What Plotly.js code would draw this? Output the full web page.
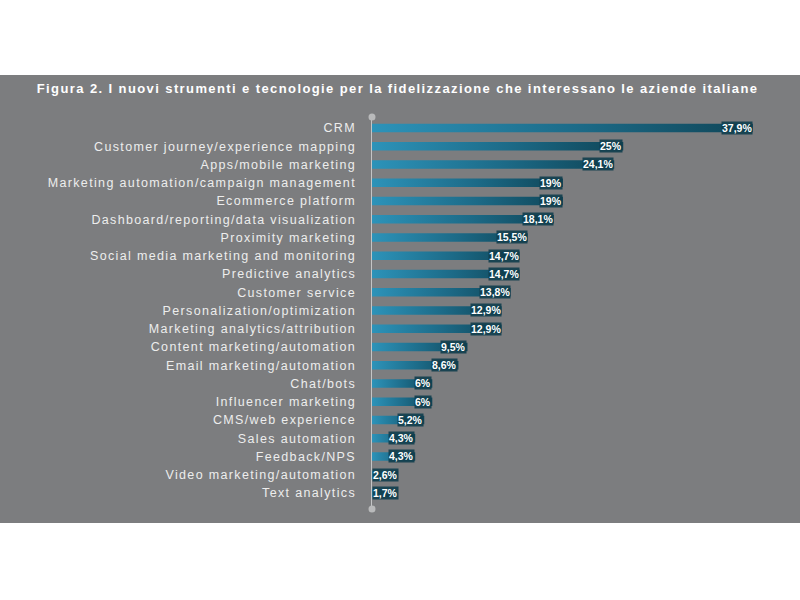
<!DOCTYPE html>
<html>
<head>
<meta charset="utf-8">
<script src="https://cdn.plot.ly/plotly-3.0.1.min.js"></script>
<style>
  html, body { margin: 0; padding: 0; background: #ffffff; }
  #chart { position: absolute; left: 0; top: 75px; width: 800px; height: 448px; }
  #chart .ytick text { letter-spacing: 1.35px; }
  #chart .gtitle { letter-spacing: 1.4px; }
</style>
</head>
<body>
<div id="chart"></div>
<script>
const categories = [
  "CRM",
  "Customer journey/experience mapping",
  "Apps/mobile marketing",
  "Marketing automation/campaign management",
  "Ecommerce platform",
  "Dashboard/reporting/data visualization",
  "Proximity marketing",
  "Social media marketing and monitoring",
  "Predictive analytics",
  "Customer service",
  "Personalization/optimization",
  "Marketing analytics/attribution",
  "Content marketing/automation",
  "Email marketing/automation",
  "Chat/bots",
  "Influencer marketing",
  "CMS/web experience",
  "Sales automation",
  "Feedback/NPS",
  "Video marketing/automation",
  "Text analytics"
];
const values = [37.9, 25, 24.1, 19, 19, 18.1, 15.5, 14.7, 14.7, 13.8, 12.9, 12.9, 9.5, 8.6, 6, 6, 5.2, 4.3, 4.3, 2.6, 1.7];
const valueLabels = values.map(v => String(v).replace('.', ',') + '%');
const titleText = "Figura 2. I nuovi strumenti e tecnologie per la fidelizzazione che interessano le aziende italiane";

const trace = {
  type: 'bar',
  orientation: 'h',
  x: values,
  y: categories,
  width: 0.46,
  marker: { color: '#1f6f8c', line: { width: 0 } },
  hoverinfo: 'none'
};

const annotations = values.map((v, i) => ({
  x: v < 3 ? 0 : v,
  y: categories[i],
  xref: 'x', yref: 'y',
  xanchor: v < 3 ? 'left' : 'right',
  yanchor: 'middle',
  text: '<b>' + valueLabels[i] + '</b>',
  showarrow: false,
  font: { family: 'Liberation Sans, Arial, sans-serif', size: 10.5, color: '#ffffff' },
  bgcolor: 'rgba(16,62,78,0.9)',
  borderpad: 0
}));

const dot = (yp) => ({
  type: 'circle', xref: 'paper', yref: 'paper',
  xsizemode: 'pixel', ysizemode: 'pixel',
  xanchor: 0, yanchor: yp,
  x0: -3.5, x1: 3.5, y0: -3.5, y1: 3.5,
  fillcolor: '#b9babb', line: { width: 0 }, layer: 'above'
});

const layout = {
  width: 800, height: 448,
  paper_bgcolor: '#7c7d7f',
  plot_bgcolor: 'rgba(0,0,0,0)',
  margin: { l: 372, r: 26, t: 42, b: 14 },
  showlegend: false,
  title: {
    text: '<b>' + titleText + '</b>',
    x: 0.497, xref: 'container', xanchor: 'center',
    y: 1 - 13 / 448, yref: 'container', yanchor: 'middle',
    font: { family: 'Liberation Sans, Arial, sans-serif', size: 13, color: '#ffffff' }
  },
  xaxis: { range: [0, 40], visible: false, fixedrange: true },
  yaxis: {
    type: 'category',
    categoryorder: 'array', categoryarray: categories,
    range: [20.88, -0.6], autorange: false,
    showline: true, linecolor: '#c4c5c6', linewidth: 1.5,
    showgrid: false, zeroline: false, ticks: '',
    ticklabelstandoff: 12,
    tickfont: { family: 'Liberation Sans, Arial, sans-serif', size: 12.5, color: '#ededed' },
    fixedrange: true
  },
  annotations: annotations,
  shapes: [dot(1), dot(0)]
};

Plotly.newPlot('chart', [trace], layout, { staticPlot: true, displayModeBar: false }).then(gd => {
  const svg = gd.querySelector('svg.main-svg');
  const ns = 'http://www.w3.org/2000/svg';
  let defs = svg.querySelector('defs');
  if (!defs) { defs = document.createElementNS(ns, 'defs'); svg.insertBefore(defs, svg.firstChild); }
  const grad = document.createElementNS(ns, 'linearGradient');
  grad.setAttribute('id', 'barGradient');
  grad.setAttribute('x1', '0'); grad.setAttribute('x2', '1');
  grad.setAttribute('y1', '0'); grad.setAttribute('y2', '0');
  [['0', '#2d93b9'], ['0.55', '#1c6a87'], ['1', '#0f4557']].forEach(([o, c]) => {
    const s = document.createElementNS(ns, 'stop');
    s.setAttribute('offset', o); s.setAttribute('stop-color', c);
    grad.appendChild(s);
  });
  defs.appendChild(grad);
  gd.querySelectorAll('.barlayer .point path').forEach(p => { p.style.fill = 'url(#barGradient)'; });
});
</script>
</body>
</html>
